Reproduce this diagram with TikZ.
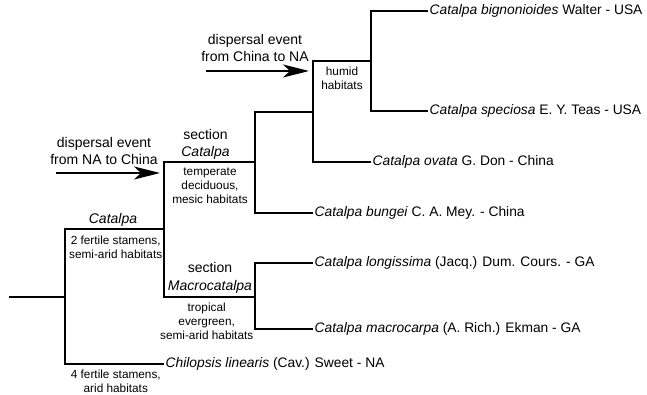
\documentclass[tikz,border=0pt]{standalone}
\usepackage{fontspec}
\setmainfont{Liberation Sans}
\usetikzlibrary{arrows.meta}
\begin{document}
\begin{tikzpicture}[x=1pt,y=-1pt,
  branch/.style={line width=2.8pt},
  disp/.style={line width=2.3pt,-{Stealth[length=26pt,width=13pt,inset=7pt]}},
  lab/.style={font=\fontsize{14}{17.4}\selectfont,align=center,inner sep=0pt},
  small/.style={font=\fontsize{11.8}{14}\selectfont,align=center,inner sep=0pt},
  sp/.style={font=\fontsize{13.8}{16}\selectfont,anchor=west,inner sep=1.5pt}]
\useasboundingbox (0,0) rectangle (647,395);
% internal nodes
\coordinate (r0) at (9,297);
\coordinate (n1) at (65,297);
\coordinate (n2) at (164,229);
\coordinate (n3) at (255,162);
\coordinate (n4) at (313,112);
\coordinate (n5) at (371,61);
\coordinate (n6) at (255,297);
% tips
\node[sp] (bign) at (428,11) {\textit{Catalpa bignonioides} Walter - USA};
\node[sp] (spec) at (428,111) {\textit{Catalpa speciosa} E. Y. Teas - USA};
\node[sp] (ovat) at (371,162) {\textit{Catalpa ovata} G. Don - China};
\node[sp] (bung) at (313,213) {\textit{Catalpa bungei} C. A. Mey. - China};
\node[sp] (long) at (313,263) {\textit{Catalpa longissima} (Jacq.) Dum. Cours. - GA};
\node[sp] (macr) at (313,329) {\textit{Catalpa macrocarpa} (A. Rich.) Ekman - GA};
\node[sp] (chil) at (164,364) {\textit{Chilopsis linearis} (Cav.) Sweet - NA};
% branches
\draw[branch] (r0) -- (n1);
\draw[branch] (n1) |- (n2);
\draw[branch] (n1) |- (chil.west);
\draw[branch] (n2) |- (n3);
\draw[branch] (n2) |- (n6);
\draw[branch] (n3) |- (n4);
\draw[branch] (n3) |- (bung.west);
\draw[branch] (n4) |- (n5);
\draw[branch] (n4) |- (ovat.west);
\draw[branch] (n5) |- (bign.west);
\draw[branch] (n5) |- (spec.west);
\draw[branch] (n6) |- (long.west);
\draw[branch] (n6) |- (macr.west);
% dispersal arrows
\coordinate (a1s) at (206,71);
\coordinate (a1e) at (309,71);
\coordinate (a2s) at (56,173);
\coordinate (a2e) at (160,173);
\draw[disp] (a1s) -- (a1e);
\draw[disp] (a2s) -- (a2e);
% labels
\node[lab] (d1) at (255,48) {dispersal event\\from China to NA};
\node[lab] (d2) at (104,151) {dispersal event\\from NA to China};
\node[lab] (sc) at (205.5,144.5) {section\\\textit{Catalpa}};
\node[small] (tc) at (210,185.5) {temperate\\deciduous,\\mesic habitats};
\node[lab] (gc) at (113,220) {\textit{Catalpa}};
\node[small] (fs2) at (115.7,247.4) {2 fertile stamens,\\semi-arid habitats};
\node[lab] (sm) at (210,278) {section\\\textit{Macrocatalpa}};
\node[small] (tr) at (206.7,321.7) {tropical\\evergreen,\\semi-arid habitats};
\node[small] (fs4) at (115.8,381) {4 fertile stamens,\\arid habitats};
\node[small] (hu) at (342,78.7) {humid\\habitats};
\end{tikzpicture}
\end{document}
